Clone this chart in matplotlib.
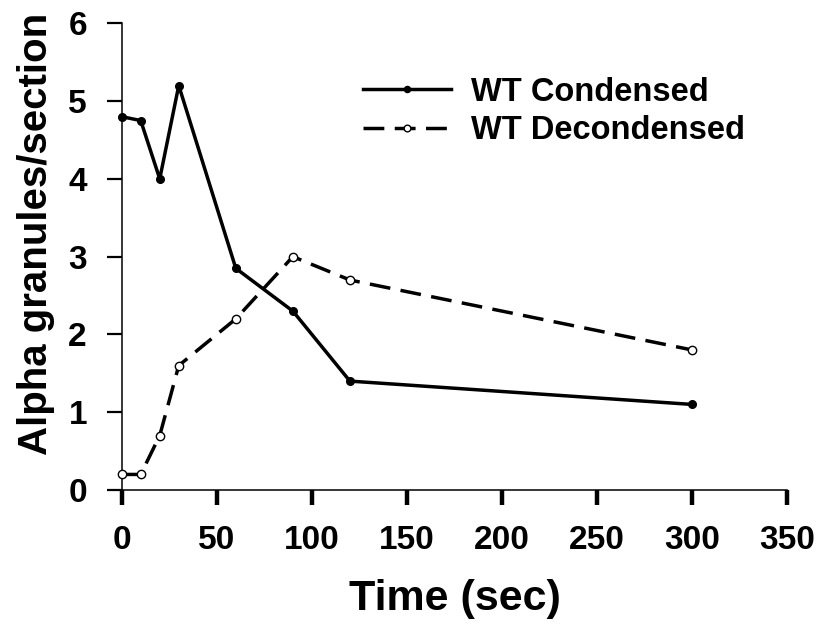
import matplotlib.pyplot as plt

plt.rcParams["font.family"] = ["Liberation Sans", "DejaVu Sans"]
plt.rcParams["font.weight"] = "bold"

time_sec = [0, 10, 20, 30, 60, 90, 120, 300]
wt_condensed = [4.8, 4.75, 4.0, 5.2, 2.85, 2.3, 1.4, 1.1]
wt_decondensed = [0.2, 0.2, 0.7, 1.6, 2.2, 3.0, 2.7, 1.8]

xticks = [0, 50, 100, 150, 200, 250, 300, 350]
yticks = [0, 1, 2, 3, 4, 5, 6]

fig = plt.figure(figsize=(8.19, 6.27), dpi=100)
ax = fig.add_axes([0.1486, 0.2185, 0.8127, 0.7443])

ax.plot(time_sec, wt_condensed, color="black", lw=2.5, marker="o",
        markersize=5.5, markerfacecolor="black", markeredgecolor="black",
        label="WT Condensed", clip_on=False, zorder=3)
ax.plot(time_sec, wt_decondensed, color="black", lw=2.5,
        linestyle=(0, (6, 3)), marker="o", markersize=6,
        markerfacecolor="white", markeredgecolor="black", markeredgewidth=1,
        label="WT Decondensed", clip_on=False, zorder=3)

ax.set_xlim(0, 350)
ax.set_ylim(0, 6)
ax.set_xticks(xticks)
ax.set_yticks(yticks)

ax.spines["top"].set_visible(False)
ax.spines["right"].set_visible(False)
ax.spines["left"].set_linewidth(1.1)
ax.spines["bottom"].set_linewidth(1.1)

ax.tick_params(axis="x", direction="out", length=11, width=3.2, pad=14,
               labelsize=24)
ax.tick_params(axis="y", direction="out", length=11, width=1.6, pad=14,
               labelsize=24)

ax.set_xlabel("Time (sec)", fontsize=31, fontweight="bold", labelpad=17)
ax.set_ylabel("Alpha granules/section", fontsize=29, fontweight="bold",
              labelpad=10)
ax.yaxis.set_label_coords(-0.1, 0.549)

ax.legend(loc="upper left", bbox_to_anchor=(0.338, 0.921), frameon=False,
          borderpad=0, fontsize=23.5, handlelength=2.7, handletextpad=0.6,
          labelspacing=0.24, markerscale=0.8)

fig.savefig("out.png", dpi=100)
